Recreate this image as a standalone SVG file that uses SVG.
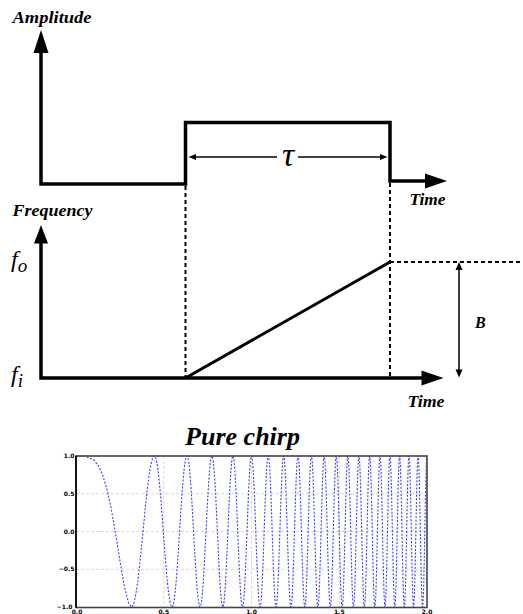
<svg xmlns="http://www.w3.org/2000/svg" width="523" height="614" viewBox="0 0 523 614">
<style>
.lbl{font-family:"Liberation Serif","DejaVu Serif",serif;font-weight:bold;font-style:italic;fill:#000}
.sym{font-family:"Liberation Serif","DejaVu Serif",serif;font-style:italic;fill:#000}
.thick{fill:none;stroke:#000;stroke-width:3.5;stroke-linejoin:miter}
.thin{fill:none;stroke:#000;stroke-width:1.5}
.dash{fill:none;stroke:#000;stroke-width:2;stroke-dasharray:4 3}
.head{fill:#000;stroke:none}
.grid{fill:none;stroke:#d8d8d8;stroke-width:1;stroke-dasharray:3 2}
.tick{font-family:"DejaVu Sans",sans-serif;font-weight:bold;font-size:6px;fill:#000}
</style>
<rect width="523" height="614" fill="#fff"/>
<g id="amplitude-plot">
<text class="lbl" x="12.5" y="22.5" font-size="16" textLength="79" lengthAdjust="spacingAndGlyphs">Amplitude</text>
<path class="thick" d="M41,52 V184 H185.5 V122.5 H390 V181 H426"/>
<polygon class="head" points="41,30 33.5,53 48.5,53"/>
<polygon class="head" points="447,181 425,173.5 425,188.5"/>
<text class="lbl" x="409.5" y="205" font-size="16" textLength="36" lengthAdjust="spacingAndGlyphs">Time</text>
</g>
<g id="tau-span">
<line class="thin" x1="194" y1="157" x2="277" y2="157"/>
<line class="thin" x1="298" y1="157" x2="382" y2="157"/>
<polygon class="head" points="188.5,157 196,154 196,160"/>
<polygon class="head" points="387.5,157 380,154 380,160"/>
<text class="sym" x="288" y="166" font-size="34" text-anchor="middle">τ</text>
</g>
<g id="connectors">
<line class="dash" x1="185.5" y1="186" x2="185.5" y2="378"/>
<line class="dash" x1="390" y1="183" x2="390" y2="378"/>
<line class="dash" x1="390" y1="262" x2="523" y2="262"/>
</g>
<g id="frequency-plot">
<text class="lbl" x="12.5" y="216" font-size="16" textLength="80" lengthAdjust="spacingAndGlyphs">Frequency</text>
<path class="thick" d="M41,242 V378 H423"/>
<polygon class="head" points="41,225 34,243.5 48,243.5"/>
<polygon class="head" points="443.5,378 421.5,370.5 421.5,385.5"/>
<line x1="185.5" y1="378" x2="390" y2="262" stroke="#000" stroke-width="3"/>
<text class="sym" x="11" y="267" font-size="24">f<tspan dy="5" font-size="19">o</tspan></text>
<text class="sym" x="11" y="382" font-size="24">f<tspan dy="5" font-size="19">i</tspan></text>
<text class="lbl" x="407.5" y="407" font-size="16" textLength="37" lengthAdjust="spacingAndGlyphs">Time</text>
</g>
<g id="bandwidth">
<line class="thin" x1="459" y1="268" x2="459" y2="371"/>
<polygon class="head" points="459,262 455.5,270 462.5,270"/>
<polygon class="head" points="459,377.5 455.5,369.5 462.5,369.5"/>
<text class="lbl" x="475" y="328" font-size="16">B</text>
</g>
<g id="chirp-plot">
<text class="lbl" x="185" y="445" font-size="25" textLength="115" lengthAdjust="spacingAndGlyphs">Pure chirp</text>
<line class="grid" x1="76" y1="493.75" x2="427" y2="493.75"/>
<line class="grid" x1="76" y1="531.5" x2="427" y2="531.5"/>
<line class="grid" x1="76" y1="569.25" x2="427" y2="569.25"/>
<line class="grid" x1="163.75" y1="456" x2="163.75" y2="607.5"/>
<line class="grid" x1="251.5" y1="456" x2="251.5" y2="607.5"/>
<line class="grid" x1="339.25" y1="456" x2="339.25" y2="607.5"/>
<path fill="none" stroke="#1a1aff" stroke-opacity="0.85" stroke-width="1.1" stroke-dasharray="2 1.6" d="M76,456 L84.78,456.23 L93.55,459.69 L97.94,464.92 L102.33,474.09 L106.71,488.37 L111.10,508.17 L115.49,532.98 L119.88,560.39 L124.26,586.01 L128.65,603.31 L131.5,607 C139.86,607 146.14,456 154.49,456 C160.90,456 165.72,607 172.13,607 C177.53,607 181.60,456 187.00,456 C191.76,456 195.34,607 200.10,607 C204.40,607 207.64,456 211.94,456 C215.90,456 218.87,607 222.83,607 C226.51,607 229.29,456 232.97,456 C236.43,456 239.03,607 242.49,607 C245.76,607 248.23,456 251.50,456 C254.61,456 256.96,607 260.07,607 C263.04,607 265.28,456 268.25,456 C271.10,456 273.25,607 276.10,607 C278.85,607 280.91,456 283.66,456 C286.31,456 288.29,607 290.94,607 C293.50,607 295.43,456 297.99,456 C300.47,456 302.34,607 304.82,607 C307.23,607 309.05,456 311.46,456 C313.80,456 315.57,607 317.91,607 C320.19,607 321.91,456 324.19,456 C326.42,456 328.09,607 330.32,607 C332.50,607 334.13,456 336.31,456 C338.44,456 340.03,607 342.16,607 C344.24,607 345.80,456 347.88,456 C349.92,456 351.45,607 353.49,607 C355.49,607 356.98,456 358.98,456 C360.94,456 362.42,607 364.38,607 C366.30,607 367.75,456 369.67,456 C371.56,456 372.98,607 374.87,607 C376.73,607 378.12,456 379.98,456 C381.80,456 383.18,607 385.00,607 C386.80,607 388.14,456 389.94,456 C391.71,456 393.04,607 394.81,607 C396.55,607 397.87,456 399.61,456 C401.33,456 402.61,607 404.33,607 C406.02,607 407.30,456 408.99,456 C410.66,456 411.91,607 413.58,607 C415.23,607 416.46,456 418.11,456 C419.73,456 420.96,607 422.58,607 C424.19,607 425.39,456 427.00,456"/>
<rect x="76" y="456" width="351" height="151.5" fill="none" stroke="#444" stroke-width="1.6"/>
<line x1="76" y1="456" x2="76" y2="607.5" stroke="#000" stroke-width="1.6"/>
<text class="tick" x="74.5" y="458" text-anchor="end">1.0</text>
<text class="tick" x="74.5" y="495.8" text-anchor="end">0.5</text>
<text class="tick" x="74.5" y="533.5" text-anchor="end">0.0</text>
<text class="tick" x="74.5" y="571.3" text-anchor="end">−0.5</text>
<text class="tick" x="72.5" y="608.5" text-anchor="end">−1.0</text>
<text class="tick" x="77" y="613.8" text-anchor="middle">0.0</text>
<text class="tick" x="163.75" y="613.8" text-anchor="middle">0.5</text>
<text class="tick" x="251.5" y="613.8" text-anchor="middle">1.0</text>
<text class="tick" x="339.25" y="613.8" text-anchor="middle">1.5</text>
<text class="tick" x="427" y="613.8" text-anchor="middle">2.0</text>
</g>
</svg>
